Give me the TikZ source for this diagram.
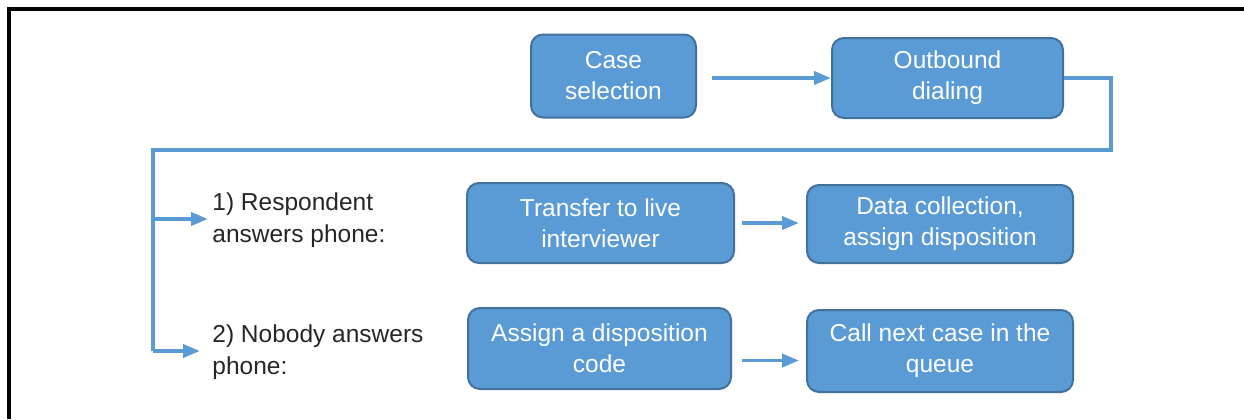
\documentclass[tikz,border=0pt]{standalone}
\usepackage{fontspec}
\setmainfont{Liberation Sans}
\usetikzlibrary{arrows.meta}

\definecolor{boxblue}{HTML}{5B9BD5}
\definecolor{boxedge}{HTML}{41719C}
\definecolor{linkblue}{HTML}{5B9BD5}

\begin{document}
\begin{tikzpicture}[x=0.5pt,y=-0.5pt,
    stage/.style={draw=boxedge, fill=boxblue, line width=1pt,
      rounded corners=6pt, text=white, align=center, inner sep=0pt,
      font=\fontsize{12.25}{15.5}\selectfont},
    answer/.style={anchor=west, align=left, inner sep=0pt, text=black!85,
      font=\fontsize{12.25}{16}\selectfont},
    link/.style={draw=linkblue, line width=1.9pt},
    flow/.style={link, -{Triangle[length=8.5pt,width=6.5pt]}}]
   \useasboundingbox (0,0) rectangle (1244,419);
   % frame
   \draw[line width=2pt] (9,419) -- (9,9) -- (1244,9);

   % top row
   \node[stage, minimum width=82.5pt, minimum height=41.5pt]
      (case) at (613.5,76) {Case\\selection};
   \node[stage, minimum width=115.5pt, minimum height=40pt]
      (dial) at (947.5,78) {Outbound\\dialing};
   \draw[flow] ([xshift=7.5pt]case.east |- dial.west) -- (dial.west);

   % the two outcomes
   \node[answer] (resp) at (212,220) {1) Respondent\\answers phone:};
   \node[answer] (nobody) at (212,352) {2) Nobody answers\\phone:};

   \node[stage, minimum width=133.5pt, minimum height=40pt]
      (transfer) at (600.5,223) {Transfer to live\\interviewer};
   \node[stage, minimum width=133pt, minimum height=39pt]
      (collect) at (940,224) {Data collection,\\assign disposition};
   \node[stage, minimum width=131.5pt, minimum height=40.5pt]
      (assign) at (599.5,348.5) {Assign a disposition\\code};
   \node[stage, minimum width=133pt, minimum height=41pt]
      (nextcase) at (940,351) {Call next case in the\\queue};

   % split after dialing
   \coordinate (turn) at (1111,150);
   \coordinate (split) at (153,150);
   \coordinate (tap1) at (153,219);
   \coordinate (tap2) at (153,351);
   \draw[link] (dial.east) -| (turn) -- (split) -- (tap2);
   \draw[flow, shorten >=2pt] (tap1) -- (tap1 -| resp.west);
   \draw[flow, shorten >=6pt] (tap2) -- (tap2 -| nobody.west);

   \draw[flow, shorten <=3.5pt, shorten >=3.5pt] (transfer.east) -- (transfer.east -| collect.west);
   \draw[flow, shorten <=5pt, shorten >=3.5pt]
      ([yshift=-6pt]assign.east) -- ([yshift=-6pt]assign.east -| nextcase.west);
\end{tikzpicture}
\end{document}
